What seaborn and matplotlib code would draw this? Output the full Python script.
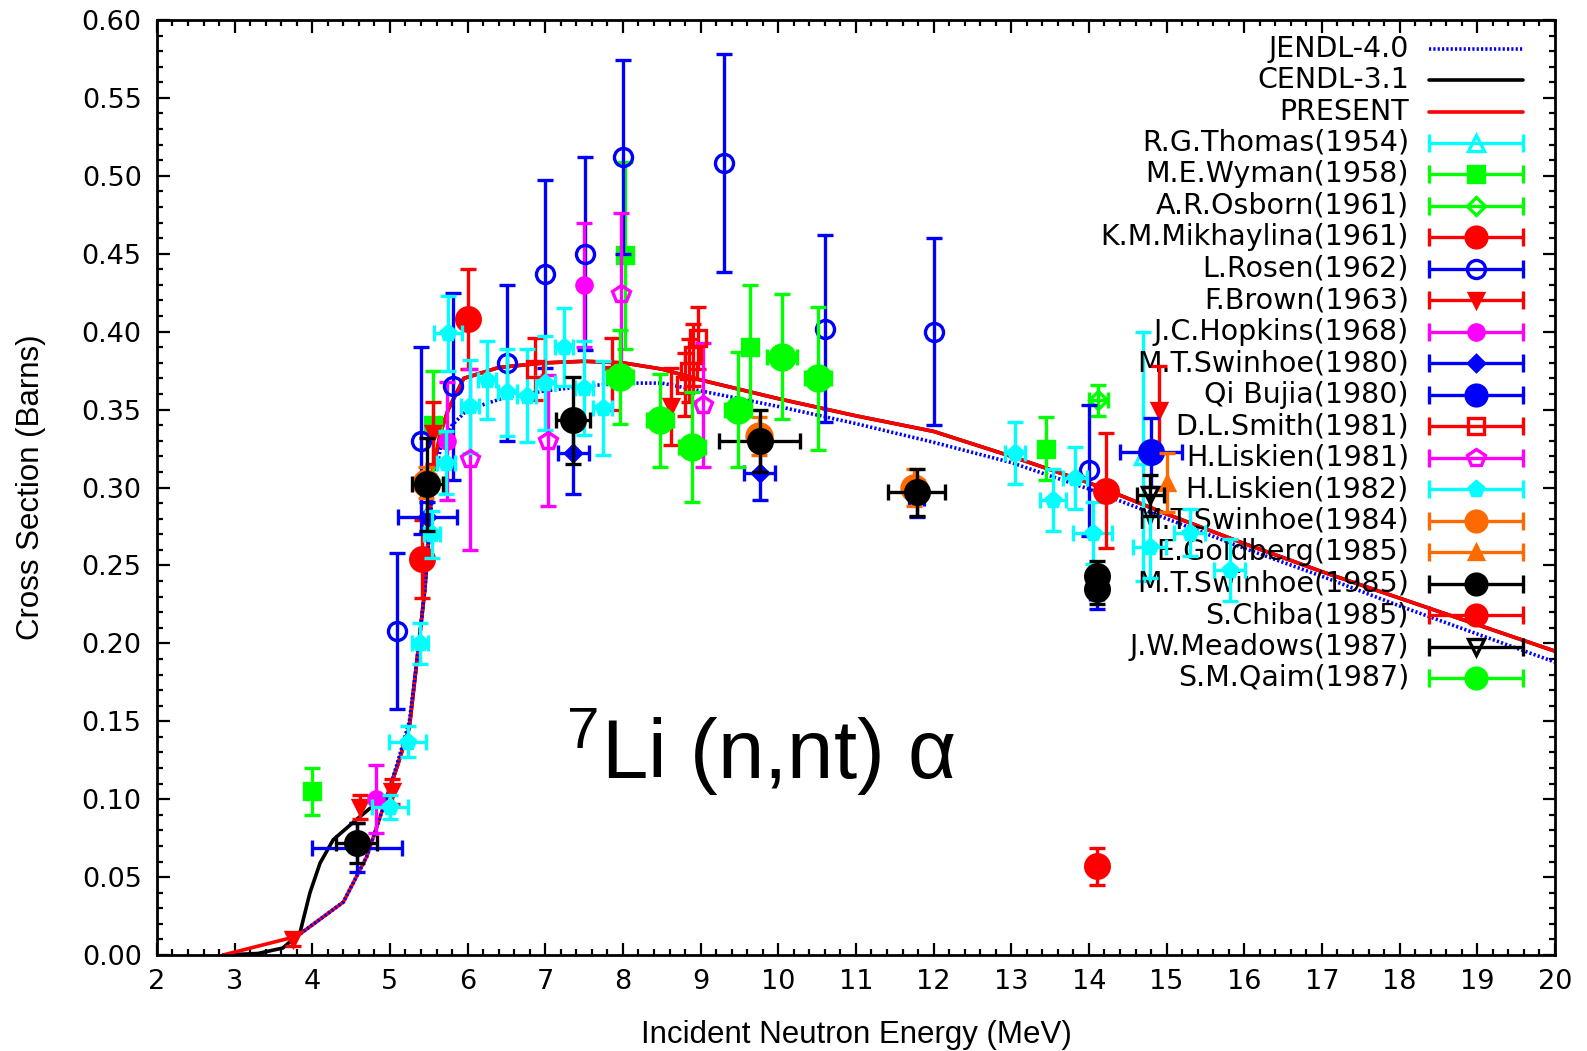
import numpy as np
import pandas as pd
import matplotlib
matplotlib.use("Agg")
import matplotlib.pyplot as plt
import seaborn as sns
from matplotlib.ticker import MultipleLocator, FormatStrFormatter

# ---------------- evaluated curves ----------------
jendl_x = [3.8, 4.4, 4.7, 4.95, 5.1, 5.25, 5.35, 5.45, 5.5, 5.55, 5.65, 5.8, 6.0, 6.5, 7.0,
           7.5, 8.0, 8.5, 9.0, 10.0, 11.0, 12.0, 13.0, 14.0, 15.0, 16.0, 17.0, 18.0, 19.0, 20.0]
jendl_y = [0.012, 0.034, 0.063, 0.100, 0.124, 0.150, 0.190, 0.235, 0.265, 0.300, 0.325, 0.340,
           0.350, 0.358, 0.362, 0.365, 0.367, 0.367, 0.362, 0.352, 0.341, 0.329, 0.316, 0.299,
           0.280, 0.261, 0.243, 0.224, 0.206, 0.188]

cendl_x = [2.85, 3.3, 3.62, 3.84, 3.97, 4.1, 4.27, 4.57, 4.74, 4.95, 5.1, 5.25, 5.35, 5.45,
           5.5, 5.55, 5.65, 5.75, 5.95, 6.4, 7.0, 7.5, 8.0, 8.5, 9.0, 10.0, 11.0, 12.0, 13.0,
           14.0, 15.0, 16.0, 17.0, 18.0, 19.0, 20.0]
cendl_y = [0.0, 0.001, 0.0045, 0.014, 0.040, 0.059, 0.074, 0.087, 0.094, 0.100, 0.122, 0.146,
           0.190, 0.235, 0.270, 0.310, 0.335, 0.350, 0.370, 0.377, 0.380, 0.381, 0.380, 0.376,
           0.369, 0.357, 0.346, 0.336, 0.320, 0.303, 0.283, 0.264, 0.246, 0.229, 0.212, 0.195]

present_x = [2.85, 3.8, 4.4, 4.7, 4.95, 5.1, 5.25, 5.35, 5.45, 5.5, 5.55, 5.65, 5.75, 5.95,
             6.4, 7.0, 7.5, 8.0, 8.5, 9.0, 10.0, 11.0, 12.0, 13.0, 14.0, 15.0, 16.0, 17.0,
             18.0, 19.0, 20.0]
present_y = [0.0, 0.012, 0.034, 0.063, 0.100, 0.122, 0.146, 0.190, 0.235, 0.270, 0.310, 0.335,
             0.350, 0.370, 0.377, 0.380, 0.381, 0.380, 0.376, 0.369, 0.357, 0.346, 0.336,
             0.320, 0.303, 0.283, 0.264, 0.246, 0.229, 0.212, 0.195]

# ---------------- experimental data ----------------
thomas_x = [14.7]
thomas_y = [0.320]
thomas_dy = [0.080]

wyman_x = [4.0, 5.55, 8.03, 9.63, 13.45]
wyman_y = [0.105, 0.340, 0.449, 0.390, 0.325]
wyman_dy = [0.015, 0.035, 0.060, 0.040, 0.020]

osborn_x = [14.12]
osborn_y = [0.356]
osborn_dy = [0.010]
osborn_dx = [0.12]

mikhaylina_x = [5.41, 6.0, 14.1]
mikhaylina_y = [0.254, 0.408, 0.057]
mikhaylina_dy = [0.025, 0.032, 0.012]

rosen_x = [5.09, 5.40, 5.81, 6.51, 7.0, 7.51, 8.0, 9.3, 10.6, 12.0, 14.0]
rosen_y = [0.208, 0.330, 0.365, 0.380, 0.437, 0.450, 0.512, 0.508, 0.402, 0.400, 0.311]
rosen_dy = [0.050, 0.060, 0.060, 0.050, 0.060, 0.062, 0.062, 0.070, 0.060, 0.060, 0.042]

brown_x = [3.75, 4.62, 5.02, 5.55, 7.86, 8.62, 14.9]
brown_y = [0.010, 0.095, 0.105, 0.335, 0.373, 0.352, 0.350]
brown_dy = [0.004, 0.008, 0.008, 0.020, 0.023, 0.025, 0.028]

hopkins_x = [4.82, 5.74, 7.5]
hopkins_y = [0.100, 0.330, 0.430]
hopkins_dy = [0.022, 0.038, 0.040]

swinhoe80_x = [4.58, 5.48, 7.36, 9.76, 11.78, 14.1]
swinhoe80_y = [0.069, 0.281, 0.322, 0.309, 0.293, 0.232]
swinhoe80_dy = [0.016, 0.010, 0.026, 0.017, 0.012, 0.010]
swinhoe80_dx = [0.58, 0.38, 0.20, 0.20, 0.10, 0.08]

qi_x = [14.8]
qi_y = [0.3225]
qi_dy = [0.022]
qi_dx = [0.40]

smith_x = [6.87, 8.80, 8.85, 8.90, 8.97]
smith_y = [0.376, 0.366, 0.375, 0.385, 0.396]
smith_dy = [0.020, 0.020, 0.020, 0.020, 0.020]

liskien81_x = [6.03, 7.03, 7.98, 9.03]
liskien81_y = [0.318, 0.330, 0.424, 0.353]
liskien81_dy = [0.058, 0.042, 0.052, 0.040]

liskien82_x = [5.0, 5.23, 5.39, 5.54, 5.72, 5.75, 6.03, 6.25, 6.51, 6.76, 7.0, 7.24, 7.5,
               7.74, 13.05, 13.54, 13.82, 14.05, 14.78, 15.3, 15.81]
liskien82_y = [0.095, 0.137, 0.200, 0.270, 0.316, 0.399, 0.352, 0.369, 0.361, 0.359, 0.367,
               0.390, 0.364, 0.351, 0.322, 0.292, 0.306, 0.271, 0.262, 0.271, 0.247]
liskien82_dy = [0.008, 0.010, 0.013, 0.015, 0.020, 0.024, 0.030, 0.025, 0.028, 0.030, 0.030,
                0.025, 0.030, 0.030, 0.020, 0.020, 0.020, 0.020, 0.020, 0.015, 0.020]
liskien82_dx = [0.23, 0.24, 0.10, 0.10, 0.12, 0.18, 0.12, 0.12, 0.12, 0.12, 0.12, 0.12, 0.12,
                0.12, 0.13, 0.17, 0.15, 0.25, 0.21, 0.20, 0.20]

swinhoe84_x = [5.46, 9.75, 11.75]
swinhoe84_y = [0.303, 0.333, 0.300]
swinhoe84_dy = [0.010, 0.012, 0.012]

goldberg_x = [15.0]
goldberg_y = [0.303]
goldberg_dy = [0.019]

swinhoe85_x = [4.57, 5.48, 7.36, 9.76, 11.78, 14.1, 14.1]
swinhoe85_y = [0.072, 0.302, 0.343, 0.330, 0.297, 0.243, 0.235]
swinhoe85_dy = [0.013, 0.030, 0.028, 0.020, 0.015, 0.010, 0.010]
swinhoe85_dx = [0.26, 0.20, 0.22, 0.52, 0.37, 0.05, 0.05]

chiba_x = [14.22]
chiba_y = [0.298]
chiba_dy = [0.037]

meadows_x = [14.79]
meadows_y = [0.295]
meadows_dy = [0.013]
meadows_dx = [0.17]

qaim_x = [7.96, 8.48, 8.89, 9.48, 10.05, 10.51]
qaim_y = [0.371, 0.343, 0.326, 0.350, 0.384, 0.370]
qaim_dy = [0.030, 0.030, 0.035, 0.037, 0.040, 0.046]
qaim_dx = [0.17, 0.17, 0.17, 0.17, 0.19, 0.17]

x_ticks = list(range(2, 21))
y_ticks = [0.00, 0.05, 0.10, 0.15, 0.20, 0.25, 0.30, 0.35, 0.40, 0.45, 0.50, 0.55, 0.60]

# ---------------- style ----------------
sns.set_theme(style="white")
plt.rcParams["font.family"] = ["DejaVu Sans"]
plt.rcParams["mathtext.default"] = "regular"
for k in ("text.color", "axes.labelcolor", "xtick.color", "ytick.color"):
    plt.rcParams[k] = "black"

CYAN, GREEN, RED, BLUE, MAG, ORANGE, BLACK = ("#00FFFF", "#00FF00", "#FF0000", "#0000FF",
                                              "#FF00FF", "#FF6A00", "#000000")

fig = plt.figure(figsize=(15.87, 10.51), dpi=100)
ax = fig.add_axes([0.0989, 0.0913, 0.8809, 0.8897])

# curves
sns.lineplot(x=cendl_x, y=cendl_y, ax=ax, color=BLACK, lw=2.6, legend=False, zorder=2)
sns.lineplot(x=jendl_x, y=jendl_y, ax=ax, color=BLUE, lw=2.6, linestyle=(0, (0.6, 0.6)),
             legend=False, zorder=2.2)
sns.lineplot(x=present_x, y=present_y, ax=ax, color=RED, lw=2.6, legend=False, zorder=2.1)

series = [
    ("R.G.Thomas(1954)", thomas_x, thomas_y, thomas_dy, None, CYAN, "^", False, 11),
    ("M.E.Wyman(1958)", wyman_x, wyman_y, wyman_dy, None, GREEN, "s", True, 11),
    ("A.R.Osborn(1961)", osborn_x, osborn_y, osborn_dy, osborn_dx, GREEN, "D", False, 9),
    ("K.M.Mikhaylina(1961)", mikhaylina_x, mikhaylina_y, mikhaylina_dy, None, RED, "o", True, 17),
    ("L.Rosen(1962)", rosen_x, rosen_y, rosen_dy, None, BLUE, "o", False, 13),
    ("F.Brown(1963)", brown_x, brown_y, brown_dy, None, RED, "v", True, 10),
    ("J.C.Hopkins(1968)", hopkins_x, hopkins_y, hopkins_dy, None, MAG, "o", True, 11),
    ("M.T.Swinhoe(1980)", swinhoe80_x, swinhoe80_y, swinhoe80_dy, swinhoe80_dx, BLUE, "D", True, 8),
    ("Qi Bujia(1980)", qi_x, qi_y, qi_dy, qi_dx, BLUE, "o", True, 17),
    ("D.L.Smith(1981)", smith_x, smith_y, smith_dy, None, RED, "s", False, 12),
    ("H.Liskien(1981)", liskien81_x, liskien81_y, liskien81_dy, None, MAG, "p", False, 13),
    ("H.Liskien(1982)", liskien82_x, liskien82_y, liskien82_dy, liskien82_dx, CYAN, "p", True, 11),
    ("M.T.Swinhoe(1984)", swinhoe84_x, swinhoe84_y, swinhoe84_dy, None, ORANGE, "o", True, 18),
    ("E.Goldberg(1985)", goldberg_x, goldberg_y, goldberg_dy, None, ORANGE, "^", True, 10),
    ("M.T.Swinhoe(1985)", swinhoe85_x, swinhoe85_y, swinhoe85_dy, swinhoe85_dx, BLACK, "o", True, 17),
    ("S.Chiba(1985)", chiba_x, chiba_y, chiba_dy, None, RED, "o", True, 17),
    ("J.W.Meadows(1987)", meadows_x, meadows_y, meadows_dy, meadows_dx, BLACK, "v", False, 12),
    ("S.M.Qaim(1987)", qaim_x, qaim_y, qaim_dy, qaim_dx, GREEN, "o", True, 18),
]

for i, (lab, xs, ys, dy, dx, c, m, filled, ms) in enumerate(series):
    ax.errorbar(xs, ys, yerr=dy, xerr=dx, fmt=m, color=c, mec=c,
                mfc=c if filled else "none", ms=ms, mew=2.4, elinewidth=2.4,
                capsize=6, capthick=2.4, ls="none", zorder=3 + i * 0.05)

# axes
ax.set_xlim(2, 20)
ax.set_ylim(0, 0.6)
ax.set_xticks(x_ticks)
ax.set_yticks(y_ticks)
ax.xaxis.set_minor_locator(MultipleLocator(0.2))
ax.yaxis.set_minor_locator(MultipleLocator(0.01))
ax.yaxis.set_major_formatter(FormatStrFormatter("%.2f"))
ax.tick_params(which="both", direction="in", top=True, right=True, bottom=True, left=True,
               color="black", labelcolor="black", width=1.6)
ax.tick_params(which="major", length=9, labelsize=19.5)
ax.tick_params(axis="y", which="major", pad=11)
ax.tick_params(axis="x", which="major", pad=10)
ax.tick_params(which="minor", length=4.5)
for s in ax.spines.values():
    s.set_color("black")
    s.set_linewidth(2.0)
ax.grid(False)

ax.set_xlabel("Incident Neutron Energy (MeV)", fontsize=22.5, family=["Liberation Sans"],
              labelpad=18)
ax.set_ylabel("Cross Section (Barns)", fontsize=22.5, family=["Liberation Sans"], labelpad=26)

ax.text(0.432, 0.188, r"$^{7}$Li (n,nt) α", transform=ax.transAxes, ha="center",
        va="baseline", fontsize=60, family=["Liberation Sans", "DejaVu Sans"])

# legend (text on the left, handle on the right)
tx, hx1, hx2 = 0.8956, 0.9099, 0.9771
hxm = 0.5 * (hx1 + hx2)
y0, dyl = 0.9694, (0.9694 - 0.2963) / 20
curve_entries = [("JENDL-4.0", BLUE, (0, (0.6, 0.6))), ("CENDL-3.1", BLACK, "-"),
                 ("PRESENT", RED, "-")]
row = 0
for lab, c, ls in curve_entries:
    yy = y0 - row * dyl
    ax.text(tx, yy, lab, transform=ax.transAxes, ha="right", va="center", fontsize=20.5)
    ax.plot([hx1, hx2], [yy, yy], transform=ax.transAxes, color=c, lw=2.6, ls=ls,
            clip_on=False, zorder=10)
    row += 1
for lab, xs, ys, dy, dx, c, m, filled, ms in series:
    yy = y0 - row * dyl
    ax.text(tx, yy, lab, transform=ax.transAxes, ha="right", va="center", fontsize=20.5)
    ax.plot([hx1, hx2], [yy, yy], transform=ax.transAxes, color=c, lw=2.4, marker="|",
            ms=13, mew=2.4, clip_on=False, zorder=10)
    ax.plot([hxm], [yy], transform=ax.transAxes, color=c, marker=m, ls="none",
            mfc=c if filled else "none", mec=c, mew=2.4, ms=min(ms, 15), clip_on=False,
            zorder=11)
    row += 1

fig.savefig("out.png", dpi=100)
